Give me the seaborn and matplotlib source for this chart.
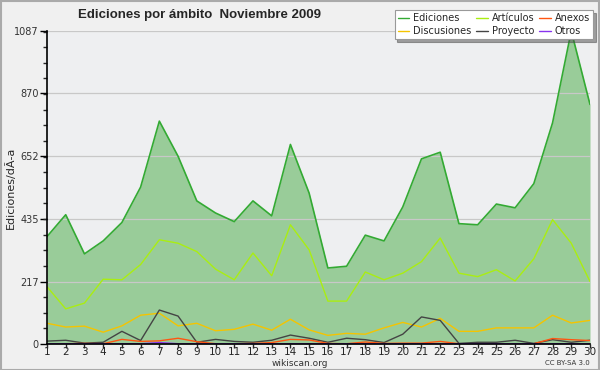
import matplotlib
matplotlib.use("Agg")
import matplotlib.pyplot as plt
from matplotlib.ticker import FixedLocator, AutoMinorLocator
from matplotlib.lines import Line2D
import seaborn as sns
import pandas as pd
import numpy as np

days = list(range(1, 31))
ediciones = [373, 449, 313, 358, 422, 545, 774, 652, 497, 455, 425, 497, 445, 693, 524,
             264, 270, 378, 358, 476, 643, 666, 418, 414, 486, 473, 557, 768, 1087, 832]
articulos = [199, 122, 142, 225, 223, 276, 362, 350, 321, 260, 223, 316, 237, 414, 327,
             149, 149, 250, 223, 246, 286, 368, 246, 234, 258, 219, 296, 432, 350, 217]
discusiones = [72, 59, 62, 41, 63, 100, 107, 63, 72, 46, 51, 69, 48, 86, 49,
               30, 37, 34, 56, 75, 59, 89, 44, 44, 56, 56, 56, 100, 73, 82]
proyecto = [10, 13, 3, 6, 44, 12, 118, 97, 6, 16, 9, 6, 13, 31, 20,
            6, 20, 15, 5, 34, 94, 82, 2, 6, 6, 13, 2, 15, 6, 13]
anexos = [1, 1, 2, 1, 16, 9, 11, 20, 8, 1, 1, 2, 5, 16, 14,
          2, 1, 7, 2, 3, 3, 9, 1, 1, 1, 1, 1, 19, 15, 12]
otros = [1, 1, 1, 1, 1, 1, 5, 1, 1, 1, 1, 1, 1, 1, 1,
         1, 1, 1, 1, 1, 1, 1, 1, 1, 1, 1, 1, 1, 1, 1]
yticks = [0, 217, 435, 652, 870, 1087]

series = [("Ediciones", ediciones, "#33aa33", 1.2),
          ("Discusiones", discusiones, "#f5c400", 1.0),
          ("Artículos", articulos, "#aaee11", 1.0),
          ("Proyecto", proyecto, "#444444", 1.0),
          ("Anexos", anexos, "#ff5511", 1.0),
          ("Otros", otros, "#8833ee", 1.0)]

sns.set_theme(style="white")
plt.rcParams['font.family'] = ['DejaVu Sans']

fig = plt.figure(figsize=(6.0, 3.7), dpi=100, facecolor="#f0f0f0")
ax = fig.add_axes([47/600, 1-344/370, 543/600, 313/370])
ax.set_facecolor("#eeeff1")

ax.fill_between(days, ediciones, 0, color="#99cc99", zorder=1, linewidth=0)
for name, vals, col, lw in [series[0], series[2], series[1], series[3], series[4], series[5]]:
    sns.lineplot(x=days, y=vals, ax=ax, color=col, linewidth=lw, label=name, zorder=3, legend=False)

ax.set_xlim(1, 30)
ax.set_ylim(0, 1087)
ax.yaxis.set_major_locator(FixedLocator(yticks))
ax.yaxis.set_minor_locator(AutoMinorLocator(4))
ax.set_xticks(days)
ax.set_xticklabels([str(d) for d in days])
ax.grid(axis="y", color="#c8c8c8", linewidth=0.9, zorder=2)
ax.set_axisbelow(False)
for s in ["top", "right"]:
    ax.spines[s].set_visible(False)
for s in ["left", "bottom"]:
    ax.spines[s].set_color("black")
    ax.spines[s].set_linewidth(1.2)
    ax.spines[s].set_zorder(4)
ax.tick_params(axis="y", which="major", length=5, width=1, direction="out", labelsize=7, colors="black", pad=1, left=True)
ax.tick_params(axis="y", which="minor", length=3, width=1, direction="out", left=True)
ax.tick_params(axis="x", which="major", length=3, width=1, direction="out", labelsize=7.5, pad=-1, bottom=True)
for lab in ax.get_yticklabels():
    lab.set_color("#333333")
ax.set_ylabel("Ediciones/dÃ\u00ada", fontsize=8)
ax.yaxis.set_label_coords(-0.058, 0.5)

fig.text(200/600, 1-15/370, "Ediciones por ámbito  Noviembre 2009", fontsize=9.5,
         fontweight="bold", ha="center", va="center", family=["Liberation Sans", "DejaVu Sans"])
fig.text(300/600, 1-363/370, "wikiscan.org", fontsize=6.5, ha="center", va="center", color="#333333")
fig.text(590/600, 1-363/370, "CC BY-SA 3.0", fontsize=5, ha="right", va="center", color="#333333")

order = ["Ediciones", "Discusiones", "Artículos", "Proyecto", "Anexos", "Otros"]
cmap = {n: c for n, v, c, l in series}
handles = [Line2D([0], [0], color=cmap[n], lw=1) for n in order]
leg = fig.legend(handles, order, ncol=3, loc="upper right", bbox_to_anchor=(593/600, 1-10/370),
                 fontsize=7, frameon=True, fancybox=False, shadow=True, handlelength=1.2,
                 handletextpad=0.4, columnspacing=0.5, labelspacing=0.35, borderpad=0.3,
                 borderaxespad=0)
leg.get_frame().set_edgecolor("#999999")
leg.get_frame().set_facecolor("white")
leg.get_frame().set_linewidth(0.8)

border = plt.Rectangle((0.001, 0.001), 0.997, 0.996, transform=fig.transFigure, fill=False,
                       edgecolor="#aaaaaa", linewidth=1.5)
fig.patches.append(border)

fig.savefig("out.png", dpi=100, facecolor=fig.get_facecolor())
